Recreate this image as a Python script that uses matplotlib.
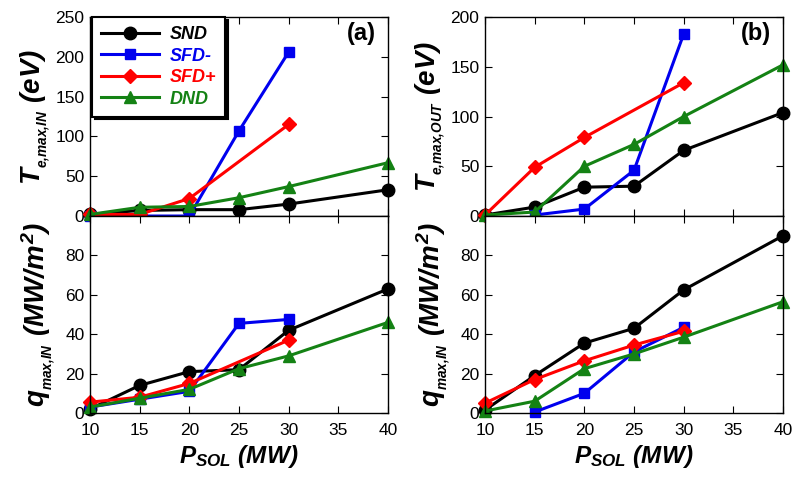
import matplotlib
matplotlib.use('Agg')
import matplotlib.pyplot as plt

plt.rcParams['font.family'] = ['Liberation Sans', 'DejaVu Sans']
plt.rcParams['mathtext.fontset'] = 'custom'
plt.rcParams['mathtext.it'] = 'Liberation Sans:bold:italic'
plt.rcParams['mathtext.rm'] = 'Liberation Sans:bold:italic'
plt.rcParams['mathtext.bf'] = 'Liberation Sans:bold:italic'

# P_SOL (MW)
p_full = [10, 15, 20, 25, 30, 40]
p_sfdm_a = [10, 15, 20, 25, 30]
p_sfdm_b = [15, 20, 25, 30]
p_sfdp = [10, 15, 20, 30]
p_sfdp_b = [10, 15, 20, 25, 30]

# (a) inner target
te_in_snd = [2, 7, 8, 8, 15, 33]
te_in_sfdm = [0, 0, 0, 107, 206]
te_in_sfdp = [2, 2, 22, 115]
te_in_dnd = [2, 11, 12, 23, 37, 67]

q_in_snd = [2, 14, 21, 22, 42, 63]
q_in_sfdm = [3, 7, 11, 45.5, 47.5]
q_in_sfdp = [5.5, 8, 15, 37]
q_in_dnd = [3, 7.5, 12, 22.5, 29, 46]

# (b) outer target
te_out_snd = [1, 9, 29, 30, 66, 104]
te_out_sfdm = [1, 7, 46, 183]
te_out_sfdp = [1, 49, 79, 134]
te_out_dnd = [1, 4, 50, 72, 100, 152]

q_out_snd = [1.5, 19, 35.5, 43, 62.5, 90]
q_out_sfdm = [0.5, 10, 31, 43.5]
q_out_sfdp = [5, 17, 26.5, 34.5, 41.5]
q_out_dnd = [1, 6, 22.5, 30, 38.5, 56.5]

labels = ['SND', 'SFD-', 'SFD+', 'DND']
colors = ['black', '#0000ee', '#ff0000', '#148214']
markers = ['o', 's', 'D', '^']
msizes = [9, 7, 7, 8.5]

fig = plt.figure(figsize=(7.92, 4.79), dpi=100)
ax_a1 = fig.add_axes([0.1136, 0.549, 0.3763, 0.4154])
ax_a2 = fig.add_axes([0.1136, 0.1378, 0.3763, 0.4112])
ax_b1 = fig.add_axes([0.6124, 0.549, 0.3763, 0.4154])
ax_b2 = fig.add_axes([0.6124, 0.1378, 0.3763, 0.4112])

data = {
    ax_a1: [(p_full, te_in_snd), (p_sfdm_a, te_in_sfdm), (p_sfdp, te_in_sfdp), (p_full, te_in_dnd)],
    ax_a2: [(p_full, q_in_snd), (p_sfdm_a, q_in_sfdm), (p_sfdp, q_in_sfdp), (p_full, q_in_dnd)],
    ax_b1: [(p_full, te_out_snd), (p_sfdm_b, te_out_sfdm), (p_sfdp, te_out_sfdp), (p_full, te_out_dnd)],
    ax_b2: [(p_full, q_out_snd), (p_sfdm_b, q_out_sfdm), (p_sfdp_b, q_out_sfdp), (p_full, q_out_dnd)],
}

for ax, series in data.items():
    for (x, y), lab, c, m, ms in zip(series, labels, colors, markers, msizes):
        ax.plot(x, y, color=c, marker=m, markersize=ms, lw=2.2, label=lab, clip_on=False)
    ax.set_xlim(10, 40)
    ax.set_xticks([10, 15, 20, 25, 30, 35, 40])
    ax.tick_params(direction='in', top=True, right=True, length=5, labelsize=12.5)
    ax.tick_params(axis='y', pad=4)
    ax.tick_params(axis='x', pad=7.5)
    for s in ax.spines.values():
        s.set_linewidth(1.0)

for ax in (ax_a1, ax_b1):
    ax.tick_params(labelbottom=False)

ax_a1.set_ylim(0, 250)
ax_a1.set_yticks([0, 50, 100, 150, 200, 250])
ax_b1.set_ylim(0, 200)
ax_b1.set_yticks([0, 50, 100, 150, 200])
for ax in (ax_a2, ax_b2):
    ax.set_ylim(0, 100)
    ax.set_yticks([0, 20, 40, 60, 80])
    ax.set_xlabel(r'$P_{SOL}\ (MW)$', fontsize=17.5, labelpad=3)

ax_a1.set_ylabel(r'$T_{{}_{e{,}max{,}IN}}\ (eV)$', fontsize=20, labelpad=2)
ax_b1.set_ylabel(r'$T_{{}_{e{,}max{,}OUT}}\ (eV)$', fontsize=20, labelpad=2)
ax_a2.set_ylabel(r'$q_{{}_{max{,}IN}}\ (MW/m^2)$', fontsize=20, labelpad=6)
ax_b2.set_ylabel(r'$q_{{}_{max{,}IN}}\ (MW/m^2)$', fontsize=20, labelpad=6)

ax_a1.text(0.91, 0.915, '(a)', transform=ax_a1.transAxes, fontsize=17,
           fontweight='bold', ha='center', va='center')
ax_b1.text(0.91, 0.915, '(b)', transform=ax_b1.transAxes, fontsize=17,
           fontweight='bold', ha='center', va='center')

leg = ax_a1.legend(loc='upper left', bbox_to_anchor=(0.006, 1.0), borderaxespad=0,
                   fancybox=False, shadow={'color': 'black', 'alpha': 1},
                   edgecolor='black', framealpha=1, handlelength=3.2,
                   borderpad=0.5, labelspacing=0.25, handletextpad=0.6,
                   prop={'size': 13, 'weight': 'bold', 'style': 'italic'})
leg.get_frame().set_linewidth(1.5)
for t, c in zip(leg.get_texts(), colors):
    t.set_color(c)

fig.savefig('out.png', dpi=100)
